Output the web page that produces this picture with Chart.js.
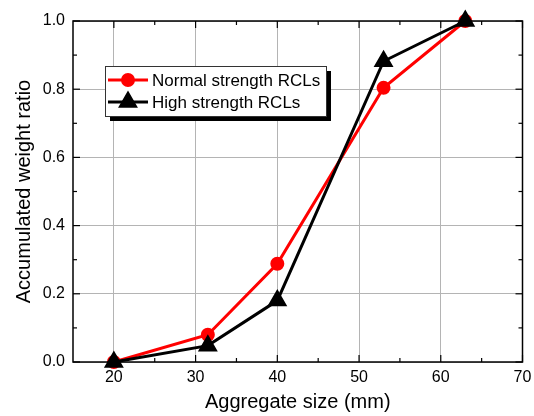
<!DOCTYPE html>
<html>
<head>
<meta charset="utf-8">
<script src="https://cdn.jsdelivr.net/npm/chart.js@4/dist/chart.umd.min.js"></script>
<style>
  html, body { margin: 0; padding: 0; background: #fff; }
  canvas { display: block; }
</style>
</head>
<body>
<canvas id="mychart" width="534" height="416"></canvas>
<script>
// aggregate sizes (mm)
const sizes = [20, 31.5, 40, 53, 63];
const normalRatio = [0, 0.08, 0.288, 0.804, 1.0];
const highRatio = [0, 0.048, 0.18, 0.882, 1.0];
const xTickVals = [20, 30, 40, 50, 60, 70];
const yTickVals = [0, 0.2, 0.4, 0.6, 0.8, 1.0];

const FONT = "'Liberation Sans', Arial, sans-serif";

const toPoints = (vals) => sizes.map((x, i) => ({ x: x, y: vals[i] }));

// inward ticks on all four sides + frame
const framePlugin = {
  id: "frame",
  afterDatasetsDraw(chart) {
    const { ctx, chartArea: a, scales } = chart;
    ctx.save();
    ctx.strokeStyle = "#000";
    ctx.lineWidth = 1.2;
    const xMinor = xTickVals.slice(0, -1).map((v, i) => (v + xTickVals[i + 1]) / 2);
    const yMinor = yTickVals.slice(0, -1).map((v, i) => (v + yTickVals[i + 1]) / 2);
    const tick = (x1, y1, x2, y2) => {
      ctx.beginPath();
      ctx.moveTo(x1, y1);
      ctx.lineTo(x2, y2);
      ctx.stroke();
    };
    xTickVals.forEach((v) => {
      const px = scales.x.getPixelForValue(v);
      tick(px, a.bottom, px, a.bottom - 7);
      tick(px, a.top, px, a.top + 7);
    });
    xMinor.forEach((v) => {
      const px = scales.x.getPixelForValue(v);
      tick(px, a.bottom, px, a.bottom - 4);
      tick(px, a.top, px, a.top + 4);
    });
    yTickVals.forEach((v) => {
      const py = scales.y.getPixelForValue(v);
      tick(a.left, py, a.left + 7, py);
      tick(a.right, py, a.right - 7, py);
    });
    yMinor.forEach((v) => {
      const py = scales.y.getPixelForValue(v);
      tick(a.left, py, a.left + 4, py);
      tick(a.right, py, a.right - 4, py);
    });
    ctx.lineWidth = 1.5;
    ctx.strokeRect(a.left, a.top, a.right - a.left, a.bottom - a.top);
    ctx.restore();
  },
};

// legend box with line + marker samples and a drop shadow
const legendPlugin = {
  id: "boxLegend",
  afterDraw(chart) {
    const { ctx } = chart;
    const bx = 105, by = 66, bw = 221, bh = 50;
    ctx.save();
    ctx.fillStyle = "#000";
    ctx.fillRect(bx + 5, by + 5, bw, bh);
    ctx.fillStyle = "#fff";
    ctx.fillRect(bx, by, bw, bh);
    ctx.strokeStyle = "#333";
    ctx.lineWidth = 1;
    ctx.strokeRect(bx + 0.5, by + 0.5, bw, bh);
    const entries = [chart.data.datasets[1], chart.data.datasets[0]];
    entries.forEach((ds, i) => {
      const y = by + 14 + i * 22;
      ctx.strokeStyle = ds.borderColor;
      ctx.lineWidth = 3;
      ctx.beginPath();
      ctx.moveTo(bx + 3, y);
      ctx.lineTo(bx + 43, y);
      ctx.stroke();
      ctx.fillStyle = ds.pointBackgroundColor;
      ctx.strokeStyle = ds.pointBorderColor;
      Chart.helpers.drawPoint(ctx, {
        pointStyle: ds.pointStyle,
        radius: ds.pointRadius,
        borderWidth: 1,
        rotation: 0,
      }, bx + 23, y);
      ctx.fillStyle = "#000";
      ctx.font = "17px " + FONT;
      ctx.textBaseline = "middle";
      ctx.fillText(ds.label, bx + 47, y + 1);
    });
    ctx.restore();
  },
};

new Chart(document.getElementById("mychart"), {
  type: "line",
  data: {
    datasets: [
      {
        label: "High strength RCLs",
        data: toPoints(highRatio),
        borderColor: "#000",
        backgroundColor: "#000",
        pointBackgroundColor: "#000",
        pointBorderColor: "#000",
        pointStyle: "triangle",
        pointRadius: 8.5,
        borderWidth: 3,
        order: 0,
        clip: false,
      },
      {
        label: "Normal strength RCLs",
        data: toPoints(normalRatio),
        borderColor: "#ff0000",
        backgroundColor: "#ff0000",
        pointBackgroundColor: "#ff0000",
        pointBorderColor: "#ff0000",
        pointStyle: "circle",
        pointRadius: 5.5,
        borderWidth: 3,
        order: 1,
        clip: false,
      },
    ],
  },
  options: {
    responsive: false,
    animation: false,
    layout: { padding: { top: 21, right: 10, left: 0, bottom: 0 } },
    plugins: { legend: { display: false }, tooltip: { enabled: false } },
    scales: {
      x: {
        type: "linear",
        min: 15,
        max: 70,
        afterBuildTicks: (s) => { s.ticks = xTickVals.map((v) => ({ value: v })); },
        afterFit: (s) => { s.height = 54; s.paddingLeft = 0; s.paddingRight = 0; },
        ticks: { color: "#000", font: { size: 16, family: FONT }, padding: 6, maxRotation: 0 },
        grid: { color: "#b4b4b4", drawTicks: false, lineWidth: 1 },
        border: { display: false },
        title: {
          display: true,
          text: "Aggregate size (mm)",
          color: "#000",
          font: { size: 20, family: FONT },
          padding: { top: 0, bottom: 2 },
        },
      },
      y: {
        min: 0,
        max: 1,
        afterBuildTicks: (s) => { s.ticks = yTickVals.map((v) => ({ value: v })); },
        afterFit: (s) => { s.width = 73; s.paddingTop = 0; s.paddingBottom = 0; },
        ticks: {
          color: "#000",
          font: { size: 16, family: FONT },
          padding: 8,
          callback: (v) => Number(v).toFixed(1),
        },
        grid: { color: "#b4b4b4", drawTicks: false, lineWidth: 1 },
        border: { display: false },
        title: {
          display: true,
          text: "Accumulated weight ratio",
          color: "#000",
          font: { size: 20, family: FONT },
          padding: { top: 12, bottom: 0 },
        },
      },
    },
  },
  plugins: [framePlugin, legendPlugin],
});
</script>
</body>
</html>
